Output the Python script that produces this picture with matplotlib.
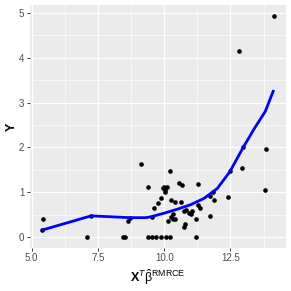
import matplotlib
matplotlib.use("Agg")
import matplotlib.pyplot as plt
from matplotlib.ticker import MultipleLocator

plt.rcParams['font.family'] = ['Liberation Sans', 'DejaVu Sans']
plt.rcParams['mathtext.fontset'] = 'custom'
plt.rcParams['mathtext.rm'] = 'Liberation Sans'
plt.rcParams['mathtext.it'] = 'Liberation Sans:italic'
plt.rcParams['mathtext.bf'] = 'Liberation Sans:bold'

# observed points
x_pts = [5.42, 5.38, 7.09, 7.24, 8.46, 8.53, 8.65, 8.72, 9.14, 9.39, 9.38,
         9.55, 9.70, 9.87, 10.06, 10.21, 11.19,
         9.55, 9.60, 9.77, 9.89, 9.94, 10.00, 10.04, 10.09, 10.03,
         10.22, 10.26, 10.42, 10.57, 10.67, 10.64, 11.29,
         10.15, 10.25, 10.34, 10.41, 10.32, 10.76, 10.80, 10.74, 10.82,
         10.95, 11.06, 11.01, 11.19, 11.29, 11.36,
         11.74, 11.74, 11.89, 11.85, 12.41, 12.48, 12.94, 12.98,
         13.83, 13.79, 12.81, 14.13]
y_pts = [0.40, 0.15, 0.00, 0.46, 0.00, 0.00, 0.36, 0.42, 1.62, 1.12, 0.00,
         0.00, 0.00, 0.00, 0.00, 0.00, 0.00,
         0.45, 0.65, 0.75, 0.87, 1.09, 1.12, 1.05, 1.12, 1.01,
         1.47, 0.82, 0.77, 1.20, 1.16, 0.78, 1.18,
         0.36, 0.45, 0.40, 0.40, 0.51, 0.23, 0.28, 0.57, 0.59,
         0.53, 0.58, 0.51, 0.39, 0.71, 0.64,
         0.46, 0.92, 0.82, 1.01, 0.89, 1.47, 1.55, 2.00,
         1.96, 1.05, 4.15, 4.93]

# fitted curve
fit_x = [5.38, 7.24, 8.7, 9.3, 9.5, 10.0, 10.5, 11.0, 11.5, 12.0, 12.48, 12.98, 13.4, 13.81, 14.13]
fit_y = [0.15, 0.47, 0.43, 0.43, 0.45, 0.53, 0.62, 0.72, 0.86, 1.08, 1.46, 2.00, 2.42, 2.80, 3.28]

fig = plt.figure(figsize=(2.91, 2.91), dpi=100)
ax = fig.add_axes([0.103, 0.148, 0.879, 0.835])
ax.set_facecolor('#EBEBEB')

ax.scatter(x_pts, y_pts, s=11, color='black', zorder=3, linewidths=0)
ax.plot(fit_x, fit_y, color='blue', lw=2.0, zorder=4, solid_capstyle='butt')

ax.set_xlim(4.936, 14.585)
ax.set_ylim(-0.246, 5.18)
ax.xaxis.set_minor_locator(MultipleLocator(1.25))
ax.yaxis.set_major_locator(MultipleLocator(1))
ax.yaxis.set_minor_locator(MultipleLocator(0.5))
ax.set_xticks([5.0, 7.5, 10.0, 12.5])
ax.set_xticklabels(['5.0', '7.5', '10.0', '12.5'])
ax.grid(which='major', color='white', lw=0.9)
ax.grid(which='minor', color='white', lw=0.45)
ax.set_axisbelow(True)
for s in ax.spines.values():
    s.set_visible(False)
ax.tick_params(which='major', length=2.5, width=0.7, color='#333333',
               labelsize=7, labelcolor='#4D4D4D', pad=1.5)
ax.tick_params(which='minor', length=0)

ax.set_xlabel(r'$\mathbf{X}^{T}\hat{\mathrm{\beta}}^{\mathrm{RMRCE}}$', fontsize=9, labelpad=3)
ax.set_ylabel('Y', fontsize=9, fontweight='bold', labelpad=1)

fig.savefig('out.png', dpi=100)
